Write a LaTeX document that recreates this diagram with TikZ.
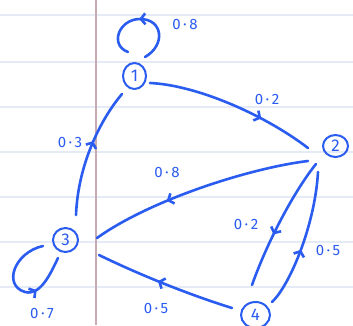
\documentclass[tikz,border=0pt]{standalone}
\usepackage{fontspec}
\setmainfont{Fira Sans}
\usetikzlibrary{arrows.meta,decorations.markings,calc,shapes.geometric}
\definecolor{ink}{HTML}{2B5CF0}
\definecolor{paperrule}{HTML}{E4EBF7}
\definecolor{marginrule}{HTML}{C9AAB2}
\begin{document}
\begin{tikzpicture}[x=1pt,y=-1pt,
  state/.style={draw=ink, line width=2pt, ellipse, inner sep=0pt, text=ink, font=\fontsize{17}{17}\selectfont},
  lbl/.style={text=ink, inner sep=0pt, font=\fontsize{15}{15}\selectfont},
  link/.style={draw=ink, line width=2.6pt, line cap=round},
  midarrow/.style={postaction={decorate}, decoration={markings, mark=at position #1 with {\arrow[ink]{Straight Barb[length=4.5pt,width=11pt]}}}}
]
\fill[white] (0,0) rectangle (353,325);
\useasboundingbox (0,0) rectangle (353,325);
% lined paper
\foreach \yy in {15,61.7,106.7,151.7,196.7,242.3,287.3}
  \draw[paperrule, line width=2pt] (0,\yy) -- (353,\yy);
\draw[marginrule, line width=2pt] (95.7,0) -- (95.7,325);

% states
\node[state, minimum width=23pt, minimum height=26pt] (n1) at (134.5,76) {1};
\node[state, minimum width=25pt, minimum height=22pt] (n2) at (335.5,146) {2};
\node[state, minimum width=25pt, minimum height=24pt] (n3) at (65.5,240) {3};
\node[state, minimum width=29pt, minimum height=26pt] (n4) at (255.5,315) {4};

% transitions
\draw[link, midarrow=0.68] ($(n1)+(15.5,7)$) .. controls (195,85) and (262,113) .. ($(n2)+(-27.5,2)$);
\draw[link, midarrow=0.58] ($(n3)+(10.5,-25)$) .. controls (78,165) and (100,120) .. ($(n1)+(-12.5,18)$);
\draw[link, midarrow=0.65] ($(n2)+(-27.5,15)$) .. controls (250,168) and (150,200) .. ($(n3)+(31.5,-2)$);
\draw[link, midarrow=0.6] ($(n2)+(-19.5,18)$) .. controls (295,190) and (268,240) .. ($(n4)+(-3.5,-30)$);
\draw[link, midarrow=0.43] ($(n4)+(16.5,-13)$) .. controls (290,285) and (315,225) .. ($(n2)+(-17.5,26)$);
\draw[link, midarrow=0.55] ($(n4)+(-23.5,-7)$) .. controls (190,295) and (140,275) .. ($(n3)+(33.5,15)$);
% self loops
\draw[link, midarrow=0.53] ($(n1)+(10.5,-19)$) .. controls (166,45) and (163,19) .. (140,19) .. controls (119,19) and (109,45) .. ($(n1)+(-6.5,-24)$);
\draw[link, midarrow=0.67] ($(n3)+(-22.5,6)$) .. controls (15,252) and (2,285) .. (25,292) .. controls (40,296) and (50,275) .. ($(n3)+(-7.5,18)$);

% probabilities
\node[lbl] (l12) at (267,99) {0\,·\,2};
\node[lbl] (l31) at (70,142) {0\,·\,3};
\node[lbl] (l23) at (167,172) {0\,·\,8};
\node[lbl] (l24) at (246,224) {0\,·\,2};
\node[lbl] (l42) at (328,250) {0\,·\,5};
\node[lbl] (l43) at (156,308) {0\,·\,5};
\node[lbl] (l11) at (185,24) {0\,·\,8};
\node[lbl] (l33) at (42,313) {0\,·\,7};
\end{tikzpicture}
\end{document}
